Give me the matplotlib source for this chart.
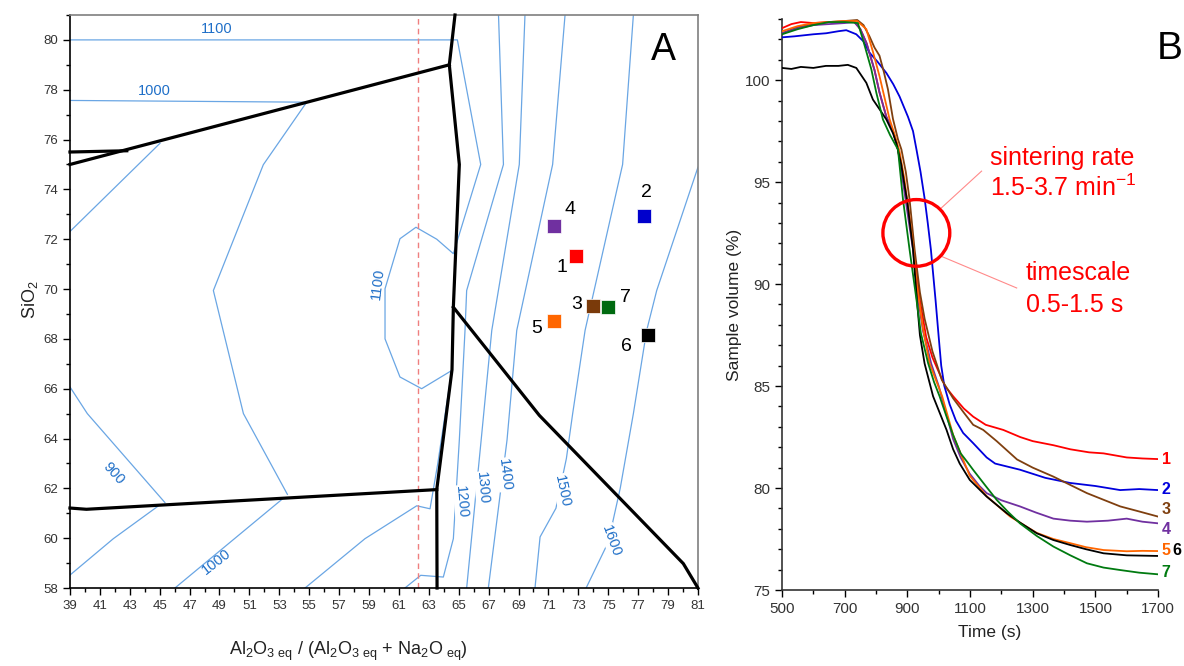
import matplotlib
matplotlib.use("Agg")
import matplotlib.pyplot as plt
from matplotlib.patches import Ellipse
from matplotlib.ticker import MultipleLocator

plt.rcParams["font.family"] = ["Liberation Sans", "DejaVu Sans"]
plt.rcParams["mathtext.fontset"] = "custom"
plt.rcParams["mathtext.rm"] = "Liberation Sans"
plt.rcParams["mathtext.default"] = "regular"

# ---------------- panel A data (phase diagram) ----------------
# phase boundaries (x = Al2O3eq/(Al2O3eq+Na2Oeq), y = SiO2)
bound1_x = [39, 64.37]
bound1_y = [75.0, 79.0]
bound2_x = [39, 42.8]
bound2_y = [75.5, 75.55]
bound3_x = [64.75, 64.37, 65.04, 64.64, 64.55, 63.53, 63.55]
bound3_y = [81.0, 79.0, 75.0, 69.27, 66.76, 61.95, 58.0]
bound4_x = [39, 40.1, 63.53]
bound4_y = [61.21, 61.16, 61.95]
bound5_x = [64.64, 70.39, 80.02, 81.0]
bound5_y = [69.27, 64.93, 58.98, 58.0]

# isotherms
iso900a_x = [45.02, 39]
iso900a_y = [75.85, 72.31]
iso900b_x = [39, 40.16, 45.35]
iso900b_y = [66.07, 65.0, 61.43]
iso900c_x = [44.9, 41.9, 39]
iso900c_y = [61.29, 59.98, 58.52]
iso1000a_x = [39, 54.83, 51.93, 48.59, 50.6, 53.54]
iso1000a_y = [77.57, 77.5, 74.99, 69.94, 65.0, 61.76]
iso1000b_x = [53.3, 46.02]
iso1000b_y = [61.62, 58.0]
iso1100_x = [39, 64.91, 66.47, 64.64, 63.53, 62.14, 61.07, 60.07, 60.07, 61.07, 62.52,
             64.53, 63.6, 63.08, 62.19, 58.73, 54.72]
iso1100_y = [80.0, 80.0, 75.0, 71.42, 72.0, 72.48, 72.02, 70.01, 68.0, 66.47, 66.0,
             66.73, 63.0, 61.18, 61.3, 59.98, 58.0]
iso1200_x = [67.66, 67.99, 65.53, 65.42, 65.04, 64.64, 63.97, 62.46, 61.4]
iso1200_y = [81.0, 75.0, 69.94, 68.34, 63.94, 59.98, 58.44, 58.51, 58.0]
iso1300_x = [69.43, 69.05, 67.21, 66.5, 65.53]
iso1300_y = [81.0, 75.0, 68.34, 63.94, 58.0]
iso1400_x = [72.11, 71.28, 68.88, 68.23, 66.98]
iso1400_y = [81.0, 75.0, 68.34, 63.94, 58.0]
iso1500_x = [76.68, 75.96, 73.45, 72.62, 72.2, 71.5, 70.44, 70.1]
iso1500_y = [81.0, 75.0, 68.34, 65.0, 63.2, 61.2, 60.05, 58.0]
iso1600_x = [81.0, 78.24, 77.57, 76.68, 75.8, 75.0, 73.52]
iso1600_y = [74.89, 69.94, 68.34, 65.0, 62.0, 59.84, 58.0]

iso_labels = ["1100", "1000", "1100", "900", "1000", "1200", "1300", "1400", "1500", "1600"]
iso_label_x = [48.83, 44.62, 59.62, 41.9, 48.81, 65.2, 66.6, 68.1, 71.9, 75.2]
iso_label_y = [80.45, 77.95, 70.21, 62.59, 59.05, 61.45, 62.0, 62.55, 61.9, 59.9]
iso_label_rot = [0, 0, 83, -48, 38, -85, -85, -83, -78, -70]

dashed_x = 62.26

x_ticks_A = list(range(39, 82, 2))
y_ticks_A = list(range(58, 81, 2))
x_ticks_B = list(range(500, 1701, 200))
y_ticks_B = list(range(75, 101, 5))

sample_names = ["1", "2", "3", "4", "5", "6", "7"]
sample_x = [72.85, 77.37, 74.0, 71.39, 71.39, 77.64, 75.0]
sample_y = [71.32, 72.92, 69.31, 72.52, 68.71, 68.14, 69.26]
sample_colors = ["#ff0000", "#0000cc", "#7a3a0a", "#7030a0", "#ff6600", "#000000", "#006a10"]
label_off = [(-14, -11), (3, 24), (-17, 2), (16, 17), (-18, -7), (-21, -11), (17, 10)]

# ---------------- panel B data (sintering curves) ----------------
t1 = [500, 530, 560, 600, 650, 700, 730, 750, 770, 795, 811, 833, 854, 870, 885, 900, 920, 940,
      960, 980, 1000, 1020, 1046, 1080, 1110, 1150, 1206, 1260, 1300, 1366, 1420, 1480, 1526,
      1600, 1650, 1700]
v1 = [102.55, 102.75, 102.85, 102.8, 102.85, 102.85, 102.9, 102.5, 101.8, 100.5, 99.4, 98.2,
      97.5, 96.6, 95.3, 94.0, 91.7, 89.2, 87.4, 86.4, 85.7, 85.0, 84.5, 83.9, 83.5, 83.1, 82.85,
      82.5, 82.3, 82.1, 81.9, 81.75, 81.7, 81.5, 81.45, 81.42]
t2 = [500, 540, 600, 641, 680, 705, 737, 760, 779, 805, 833, 855, 875, 902, 918, 929, 942, 955,
      965, 975, 990, 1000, 1008, 1018, 1035, 1055, 1078, 1110, 1153, 1180, 1259, 1340, 1419,
      1500, 1579, 1640, 1700]
v2 = [102.1, 102.15, 102.25, 102.3, 102.4, 102.45, 102.25, 101.9, 101.35, 100.9, 100.35, 99.8,
      99.2, 98.2, 97.5, 96.6, 95.5, 94.2, 93.0, 91.7, 89.2, 87.4, 86.0, 85.0, 84.1, 83.3, 82.7,
      82.2, 81.5, 81.2, 80.9, 80.5, 80.25, 80.1, 79.9, 79.95, 79.9]
t3 = [500, 550, 600, 650, 700, 740, 760, 779, 795, 811, 825, 838, 854, 870, 881, 895, 907, 923,
      940, 955, 966, 980, 993, 1010, 1046, 1080, 1110, 1142, 1185, 1250, 1300, 1366, 1420, 1473,
      1530, 1579, 1640, 1700]
v3 = [102.3, 102.6, 102.75, 102.85, 102.9, 102.95, 102.7, 102.15, 101.6, 101.2, 100.4, 99.55,
      98.1, 97.1, 96.6, 95.5, 94.15, 91.7, 89.6, 88.3, 87.6, 86.7, 86.1, 85.3, 84.4, 83.7, 83.1,
      82.85, 82.3, 81.4, 81.0, 80.56, 80.15, 79.75, 79.4, 79.1, 78.85, 78.6]
t4 = [500, 550, 600, 650, 700, 730, 750, 770, 795, 811, 833, 854, 870, 890, 905, 918, 934, 950,
      965, 976, 1000, 1025, 1046, 1070, 1099, 1130, 1153, 1200, 1259, 1310, 1366, 1420, 1473,
      1540, 1600, 1650, 1700]
v4 = [102.3, 102.55, 102.7, 102.75, 102.8, 102.85, 102.5, 101.8, 100.5, 99.4, 98.2, 97.5, 96.6,
      94.6, 93.0, 91.7, 89.3, 87.7, 86.8, 86.1, 85.0, 83.6, 82.4, 81.5, 80.7, 80.1, 79.75, 79.4,
      79.1, 78.8, 78.5, 78.4, 78.35, 78.4, 78.5, 78.35, 78.27]
t5 = [500, 550, 600, 650, 700, 740, 769, 790, 811, 843, 860, 875, 890, 905, 918, 930, 950, 971,
      1011, 1046, 1083, 1099, 1153, 1228, 1313, 1366, 1419, 1470, 1526, 1600, 1650, 1700]
v5 = [102.4, 102.65, 102.8, 102.85, 102.9, 102.9, 102.5, 101.4, 100.2, 98.1, 97.3, 96.5, 95.2,
      93.5, 91.9, 90.0, 87.8, 86.1, 84.5, 82.6, 81.2, 80.6, 79.6, 78.6, 77.8, 77.5, 77.3, 77.1,
      76.96, 76.9, 76.92, 76.91]
t6 = [500, 530, 560, 600, 640, 680, 710, 737, 769, 790, 810, 833, 854, 865, 880, 900, 918, 930,
      940, 955, 982, 1025, 1046, 1067, 1099, 1153, 1217, 1260, 1313, 1366, 1419, 1470, 1526,
      1600, 1700]
v6 = [100.6, 100.55, 100.65, 100.6, 100.7, 100.7, 100.75, 100.6, 99.87, 99.05, 98.6, 98.07,
      97.4, 96.9, 95.9, 94.0, 91.7, 89.3, 87.5, 86.1, 84.5, 82.85, 81.9, 81.2, 80.4, 79.58,
      78.77, 78.3, 77.78, 77.45, 77.21, 77.0, 76.8, 76.7, 76.67]
t7 = [500, 550, 600, 650, 700, 742, 758, 785, 801, 822, 845, 870, 886, 907, 929, 943, 966, 985,
      1003, 1025, 1046, 1070, 1094, 1110, 1150, 1185, 1220, 1259, 1313, 1366, 1420, 1473, 1526,
      1579, 1640, 1700]
v7 = [102.25, 102.5, 102.7, 102.85, 102.85, 102.8, 102.0, 100.53, 99.38, 98.07, 97.3, 96.6,
      94.15, 91.69, 89.24, 87.6, 86.13, 85.2, 84.49, 83.5, 82.6, 81.7, 81.22, 80.89, 80.1, 79.42,
      78.85, 78.27, 77.65, 77.13, 76.7, 76.31, 76.1, 75.98, 75.85, 75.77]
curve_t = [t1, t2, t3, t4, t5, t6, t7]
curve_v = [v1, v2, v3, v4, v5, v6, v7]
curve_colors = ["#ff0000", "#0000dd", "#7f3f0f", "#7030a0", "#ff6600", "#000000", "#007a10"]
end_label_x = [1726, 1726, 1726, 1726, 1726, 1761, 1726]
end_label_y = [81.38, 79.91, 78.93, 77.95, 76.96, 76.96, 75.85]

# ---------------- figure ----------------
fig = plt.figure(figsize=(11.84, 6.66), dpi=100)
axA = fig.add_axes([0.0591, 0.1171, 0.5304, 0.8604])
axB = fig.add_axes([0.6605, 0.1141, 0.3176, 0.8574])

iso_color = "#6aa6e4"
lab_color = "#1f6fc8"
for xs, ys in [(iso900a_x, iso900a_y), (iso900b_x, iso900b_y), (iso900c_x, iso900c_y),
               (iso1000a_x, iso1000a_y), (iso1000b_x, iso1000b_y), (iso1100_x, iso1100_y),
               (iso1200_x, iso1200_y), (iso1300_x, iso1300_y), (iso1400_x, iso1400_y),
               (iso1500_x, iso1500_y), (iso1600_x, iso1600_y)]:
    axA.plot(xs, ys, color=iso_color, lw=0.9, zorder=2)

for i, txt in enumerate(iso_labels):
    box = None
    if i >= 5:
        box = dict(facecolor="white", edgecolor="none", pad=0.5)
    axA.text(iso_label_x[i], iso_label_y[i], txt, color=lab_color, fontsize=10.5,
             rotation=iso_label_rot[i], ha="center", va="center", bbox=box, zorder=3)

axA.axvline(dashed_x, color="#ef7f7f", lw=1, ls=(0, (4, 3)), zorder=2)

for xs, ys in [(bound1_x, bound1_y), (bound2_x, bound2_y), (bound3_x, bound3_y),
               (bound4_x, bound4_y), (bound5_x, bound5_y)]:
    axA.plot(xs, ys, color="black", lw=2.3, solid_joinstyle="miter", zorder=4, clip_on=False)

for i in range(len(sample_names)):
    axA.plot(sample_x[i], sample_y[i], marker="s", ms=10, color=sample_colors[i],
             mec="white", mew=0.5, ls="none", zorder=5)
    axA.annotate(sample_names[i], (sample_x[i], sample_y[i]), xytext=label_off[i],
                 textcoords="offset pixels", ha="center", va="center", fontsize=14, zorder=6)

axA.set_xlim(39, 81)
axA.set_ylim(58, 81)
axA.set_xticks(x_ticks_A)
axA.set_yticks(y_ticks_A)
axA.xaxis.set_minor_locator(MultipleLocator(1))
axA.yaxis.set_minor_locator(MultipleLocator(1))
axA.tick_params(which="both", direction="out", labelsize=9.5, labelcolor="#333333", width=1)
axA.tick_params(which="major", length=5)
axA.tick_params(which="minor", length=3)
for s in ["top", "right"]:
    axA.spines[s].set_color("#7f7f7f")
    axA.spines[s].set_linewidth(1.2)
for s in ["left", "bottom"]:
    axA.spines[s].set_linewidth(1.2)
fig.text(348 / 1184, 1 - 651 / 666,
         r"Al$_2$O$_{3\ eq}$ / (Al$_2$O$_{3\ eq}$ + Na$_2$O$_{\ eq}$)",
         fontsize=13, ha="center", va="center", color="#222222")
fig.text(30 / 1184, 1 - 300 / 666, r"SiO$_2$", rotation=90, fontsize=13,
         ha="center", va="center", color="#222222")
fig.text(663 / 1184, 1 - 50 / 666, "A", fontsize=27, ha="center", va="center")

# panel B
for i in range(len(curve_t)):
    axB.plot(curve_t[i], curve_v[i], color=curve_colors[i], lw=1.3, zorder=3)
    axB.text(end_label_x[i], end_label_y[i], sample_names[i], color=curve_colors[i],
             fontsize=11.5, fontweight="bold", ha="center", va="center", clip_on=False)

axB.add_patch(Ellipse((928.6, 92.51), 213.4, 3.27, fill=False, edgecolor="#ff0000", lw=2.4,
                      zorder=5))
axB.plot([1008.8, 1136.8], [93.74, 95.54], color="#ff8a8a", lw=0.8)
axB.plot([1008.8, 1248.8], [91.36, 89.81], color="#ff8a8a", lw=0.8)
axB.text(1163.5, 96.2, "sintering rate", color="#ff0000", fontsize=18, ha="left", va="center")
axB.text(1163.5, 94.7, r"1.5-3.7 min$^{-1}$", color="#ff0000", fontsize=18, ha="left",
         va="center")
axB.text(1278.6, 90.56, "timescale", color="#ff0000", fontsize=18, ha="left", va="center")
axB.text(1278.6, 88.99, "0.5-1.5 s", color="#ff0000", fontsize=18, ha="left", va="center")

axB.set_xlim(500, 1700)
axB.set_ylim(75, 103)
axB.set_xticks(x_ticks_B)
axB.set_yticks(y_ticks_B)
axB.xaxis.set_minor_locator(MultipleLocator(100))
axB.yaxis.set_minor_locator(MultipleLocator(1))
axB.tick_params(which="both", direction="out", labelsize=11, labelcolor="#333333", width=1)
axB.tick_params(which="major", length=5)
axB.tick_params(which="minor", length=3)
axB.spines["top"].set_visible(False)
axB.spines["right"].set_visible(False)
for s in ["left", "bottom"]:
    axB.spines[s].set_linewidth(1.2)
    axB.spines[s].set_color("#333333")
fig.text(990 / 1184, 1 - 633 / 666, "Time (s)", fontsize=12.5, ha="center", va="center",
         color="#222222")
fig.text(735 / 1184, 1 - 305 / 666, "Sample volume (%)", rotation=90, fontsize=12.5,
         ha="center", va="center", color="#222222")
fig.text(1170 / 1184, 1 - 49 / 666, "B", fontsize=28, ha="center", va="center")

fig.savefig("out.png", dpi=100, facecolor="white")
